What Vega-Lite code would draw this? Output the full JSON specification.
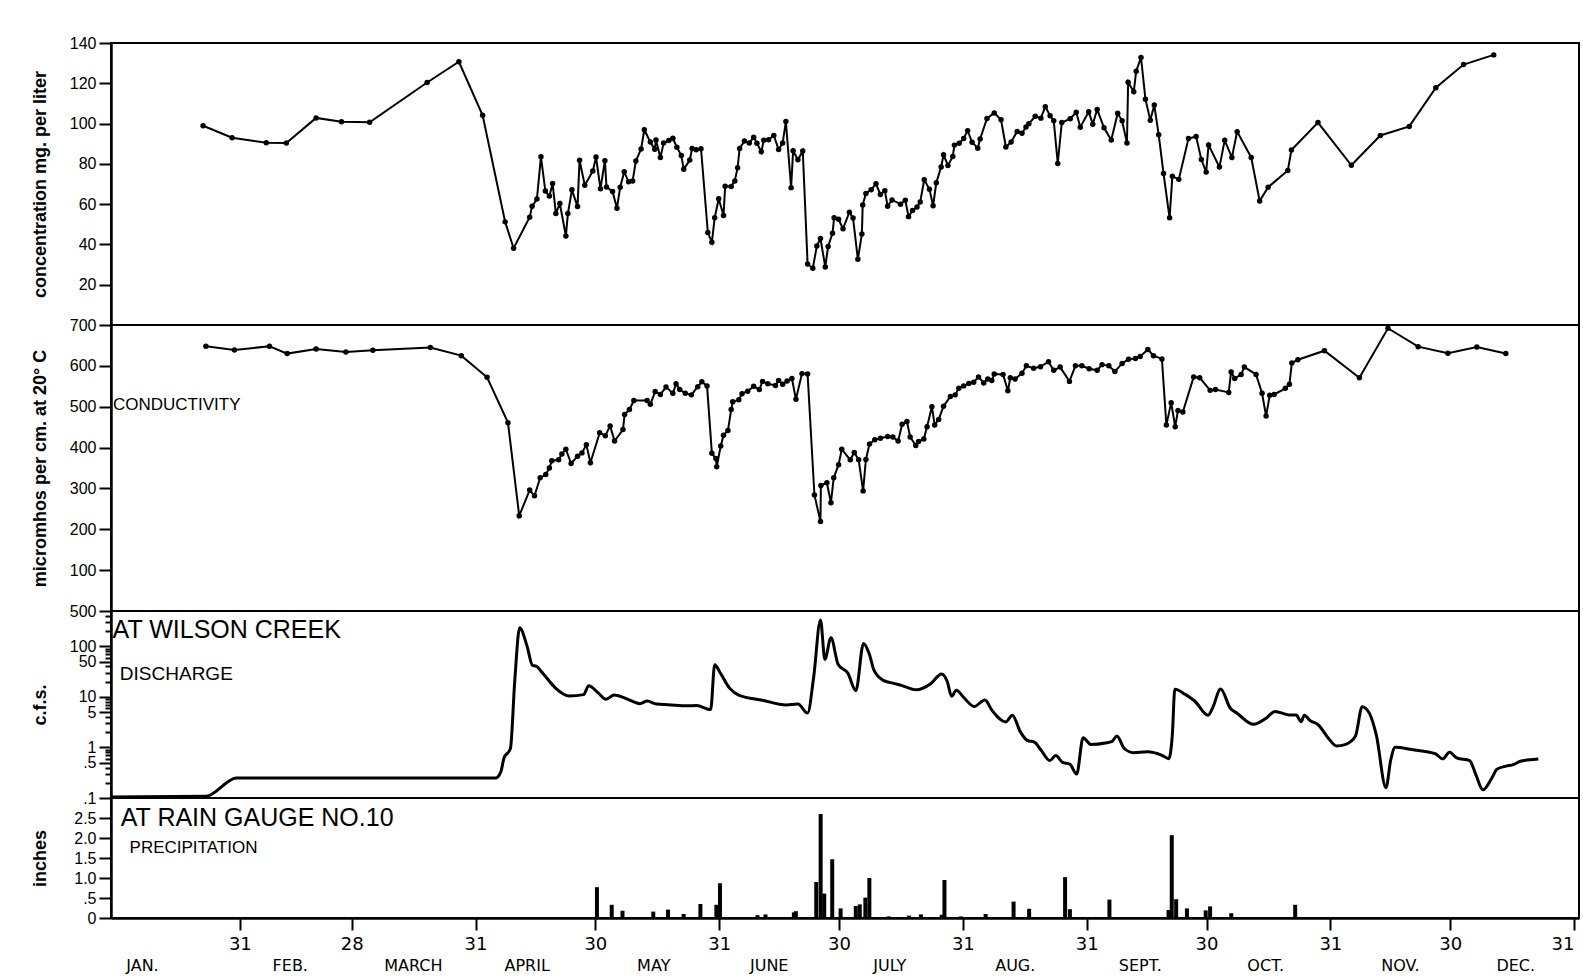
{
  "$schema": "https://vega.github.io/schema/vega-lite/v6.json",
  "background": "white",
  "padding": {"left": 29, "top": 34, "right": 0, "bottom": 0},
  "spacing": 0,
  "bounds": "flush",
  "config": {
    "view": {"stroke": "#000", "strokeWidth": 2},
    "font": "Liberation Sans",
    "axis": {"domainColor": "#000", "domainWidth": 2.5, "tickColor": "#000", "tickWidth": 2, "tickSize": 12, "labelColor": "#000", "titleColor": "#000", "grid": false, "labelOverlap": false},
    "axisY": {"labelFont": "Liberation Sans", "labelFontSize": 16, "labelPadding": 3, "titleFont": "Liberation Sans", "titleFontSize": 18, "titleFontWeight": "bold", "titlePadding": 4, "minExtent": 58, "maxExtent": 58},
    "axisX": {"labelFont": "DejaVu Sans", "labelFontSize": 17}
  },
  "datasets": {
    "conc": [
      {"day":22.9,"mg":98.9},{"day":30.1,"mg":93.0},{"day":38.6,"mg":90.5},{"day":43.6,"mg":90.3},{"day":51.0,"mg":102.8},{"day":57.3,"mg":100.9},{"day":64.3,"mg":100.6},{"day":78.6,"mg":120.4},{"day":86.5,"mg":130.7},{"day":92.4,"mg":104.1},{"day":98.0,"mg":51.2},{"day":100.1,"mg":38.1},{"day":104.1,"mg":53.5},{"day":104.7,"mg":58.9},{"day":105.9,"mg":62.6},{"day":106.9,"mg":83.5},{"day":108.0,"mg":66.5},{"day":109.0,"mg":64.0},{"day":109.8,"mg":70.2},{"day":110.6,"mg":55.4},{"day":111.6,"mg":60.3},{"day":113.1,"mg":44.2},{"day":113.6,"mg":55.3},{"day":114.6,"mg":67.1},{"day":116.0,"mg":58.8},{"day":116.5,"mg":81.8},{"day":117.8,"mg":69.4},{"day":119.8,"mg":76.4},{"day":120.6,"mg":83.4},{"day":121.7,"mg":67.6},{"day":122.8,"mg":81.6},{"day":123.2,"mg":68.5},{"day":124.7,"mg":66.3},{"day":125.8,"mg":58.0},{"day":126.6,"mg":68.4},{"day":127.6,"mg":76.1},{"day":128.7,"mg":71.1},{"day":129.7,"mg":71.5},{"day":130.5,"mg":81.4},{"day":131.8,"mg":87.4},{"day":132.6,"mg":96.9},{"day":134.1,"mg":90.9},{"day":135.2,"mg":87.2},{"day":135.5,"mg":91.9},{"day":136.6,"mg":83.1},{"day":137.4,"mg":90.3},{"day":138.7,"mg":91.6},{"day":139.7,"mg":92.7},{"day":140.7,"mg":88.2},{"day":141.8,"mg":84.1},{"day":142.4,"mg":77.3},{"day":143.9,"mg":81.9},{"day":144.5,"mg":87.6},{"day":145.5,"mg":87.0},{"day":146.7,"mg":87.5},{"day":148.4,"mg":45.9},{"day":149.4,"mg":41.1},{"day":150.1,"mg":53.2},{"day":151.1,"mg":62.7},{"day":152.3,"mg":54.4},{"day":152.7,"mg":68.9},{"day":154.2,"mg":68.8},{"day":155.1,"mg":71.5},{"day":155.8,"mg":78.1},{"day":156.3,"mg":87.6},{"day":157.5,"mg":91.4},{"day":158.7,"mg":90.3},{"day":159.8,"mg":93.2},{"day":160.6,"mg":90.2},{"day":161.7,"mg":86.0},{"day":162.3,"mg":91.7},{"day":163.5,"mg":92.0},{"day":164.8,"mg":94.1},{"day":166.0,"mg":87.1},{"day":167.0,"mg":90.4},{"day":167.8,"mg":101.0},{"day":169.1,"mg":68.2},{"day":169.6,"mg":86.5},{"day":170.8,"mg":82.0},{"day":172.0,"mg":86.4},{"day":173.2,"mg":30.3},{"day":174.5,"mg":28.2},{"day":175.5,"mg":39.2},{"day":176.4,"mg":42.9},{"day":177.6,"mg":28.8},{"day":178.3,"mg":39.0},{"day":179.4,"mg":45.5},{"day":179.8,"mg":53.3},{"day":180.9,"mg":52.5},{"day":182.0,"mg":47.8},{"day":183.6,"mg":56.0},{"day":184.5,"mg":53.1},{"day":185.7,"mg":32.6},{"day":186.7,"mg":45.2},{"day":186.9,"mg":59.6},{"day":187.7,"mg":65.3},{"day":189.0,"mg":67.2},{"day":190.2,"mg":70.1},{"day":191.3,"mg":64.8},{"day":192.4,"mg":66.7},{"day":193.1,"mg":59.0},{"day":194.2,"mg":62.1},{"day":196.3,"mg":60.0},{"day":197.5,"mg":61.9},{"day":198.3,"mg":53.8},{"day":199.3,"mg":56.9},{"day":200.4,"mg":58.6},{"day":201.2,"mg":61.1},{"day":202.2,"mg":72.1},{"day":203.5,"mg":67.4},{"day":204.4,"mg":59.2},{"day":205.2,"mg":70.6},{"day":206.4,"mg":78.4},{"day":207.0,"mg":84.5},{"day":208.1,"mg":79.2},{"day":209.3,"mg":83.7},{"day":209.7,"mg":89.3},{"day":210.9,"mg":90.2},{"day":212.0,"mg":92.6},{"day":213.0,"mg":96.5},{"day":214.1,"mg":90.7},{"day":215.5,"mg":87.8},{"day":216.1,"mg":92.4},{"day":217.8,"mg":102.5},{"day":219.6,"mg":105.3},{"day":221.3,"mg":101.9},{"day":222.5,"mg":88.4},{"day":223.8,"mg":90.8},{"day":225.3,"mg":96.1},{"day":226.5,"mg":95.2},{"day":227.5,"mg":98.3},{"day":228.2,"mg":99.9},{"day":229.8,"mg":103.6},{"day":231.2,"mg":102.7},{"day":232.3,"mg":108.4},{"day":233.5,"mg":103.9},{"day":234.4,"mg":101.4},{"day":235.4,"mg":80.2},{"day":236.4,"mg":100.5},{"day":238.5,"mg":102.4},{"day":240.0,"mg":105.6},{"day":241.0,"mg":98.2},{"day":243.1,"mg":105.9},{"day":244.1,"mg":99.7},{"day":245.2,"mg":107.0},{"day":246.9,"mg":97.9},{"day":248.7,"mg":91.8},{"day":250.3,"mg":105.1},{"day":251.4,"mg":101.4},{"day":252.6,"mg":90.3},{"day":252.9,"mg":120.5},{"day":254.3,"mg":115.8},{"day":254.9,"mg":126.0},{"day":256.1,"mg":132.8},{"day":257.2,"mg":112.1},{"day":258.4,"mg":101.7},{"day":259.4,"mg":109.2},{"day":260.5,"mg":94.4},{"day":261.7,"mg":75.2},{"day":263.2,"mg":53.2},{"day":263.9,"mg":73.8},{"day":265.5,"mg":72.3},{"day":267.9,"mg":92.6},{"day":269.8,"mg":93.6},{"day":271.1,"mg":82.2},{"day":272.3,"mg":75.9},{"day":272.9,"mg":89.4},{"day":275.6,"mg":78.4},{"day":276.9,"mg":91.7},{"day":278.7,"mg":83.2},{"day":280.0,"mg":96.0},{"day":283.5,"mg":83.2},{"day":285.6,"mg":61.6},{"day":287.7,"mg":68.4},{"day":292.6,"mg":76.7},{"day":293.5,"mg":86.9},{"day":300.1,"mg":100.5},{"day":308.4,"mg":79.3},{"day":315.6,"mg":94.1},{"day":322.8,"mg":98.6},{"day":329.4,"mg":117.8},{"day":336.3,"mg":129.3},{"day":343.8,"mg":134.1}
    ],
    "cond": [
      {"day":23.6,"umhos":648},{"day":30.7,"umhos":639},{"day":39.4,"umhos":648},{"day":43.8,"umhos":630},{"day":51.0,"umhos":641},{"day":58.4,"umhos":634},{"day":65.1,"umhos":638},{"day":79.4,"umhos":645},{"day":87.1,"umhos":625},{"day":93.5,"umhos":572},{"day":98.7,"umhos":461},{"day":101.5,"umhos":233},{"day":104.1,"umhos":296},{"day":105.3,"umhos":282},{"day":106.7,"umhos":326},{"day":108.1,"umhos":334},{"day":109.0,"umhos":350},{"day":109.6,"umhos":368},{"day":111.3,"umhos":370},{"day":112.1,"umhos":384},{"day":113.1,"umhos":396},{"day":114.4,"umhos":361},{"day":116.0,"umhos":379},{"day":117.1,"umhos":387},{"day":118.2,"umhos":407},{"day":119.2,"umhos":363},{"day":121.5,"umhos":436},{"day":122.9,"umhos":429},{"day":124.1,"umhos":453},{"day":125.2,"umhos":416},{"day":127.3,"umhos":444},{"day":127.7,"umhos":481},{"day":128.9,"umhos":493},{"day":130.0,"umhos":515},{"day":133.3,"umhos":515},{"day":134.1,"umhos":506},{"day":135.3,"umhos":537},{"day":136.6,"umhos":530},{"day":138.0,"umhos":548},{"day":139.7,"umhos":533},{"day":140.5,"umhos":556},{"day":141.4,"umhos":542},{"day":142.8,"umhos":533},{"day":144.3,"umhos":529},{"day":145.9,"umhos":549},{"day":146.9,"umhos":561},{"day":148.2,"umhos":551},{"day":149.4,"umhos":386},{"day":150.4,"umhos":373},{"day":150.6,"umhos":353},{"day":151.6,"umhos":404},{"day":152.3,"umhos":430},{"day":153.4,"umhos":442},{"day":154.2,"umhos":493},{"day":154.6,"umhos":512},{"day":156.1,"umhos":517},{"day":156.9,"umhos":532},{"day":158.3,"umhos":538},{"day":159.8,"umhos":550},{"day":161.2,"umhos":542},{"day":162.0,"umhos":562},{"day":163.3,"umhos":556},{"day":165.2,"umhos":552},{"day":166.0,"umhos":564},{"day":167.0,"umhos":555},{"day":168.1,"umhos":563},{"day":169.3,"umhos":569},{"day":170.3,"umhos":518},{"day":171.8,"umhos":581},{"day":173.2,"umhos":580},{"day":174.9,"umhos":284},{"day":176.4,"umhos":219},{"day":176.5,"umhos":307},{"day":178.0,"umhos":314},{"day":179.0,"umhos":265},{"day":179.7,"umhos":326},{"day":180.9,"umhos":358},{"day":181.7,"umhos":396},{"day":183.8,"umhos":370},{"day":184.8,"umhos":388},{"day":185.9,"umhos":370},{"day":187.0,"umhos":294},{"day":187.7,"umhos":371},{"day":188.6,"umhos":409},{"day":189.9,"umhos":419},{"day":191.3,"umhos":423},{"day":193.1,"umhos":427},{"day":194.4,"umhos":426},{"day":195.7,"umhos":416},{"day":196.7,"umhos":457},{"day":197.9,"umhos":464},{"day":198.7,"umhos":426},{"day":200.1,"umhos":405},{"day":200.8,"umhos":415},{"day":202.1,"umhos":421},{"day":202.9,"umhos":451},{"day":204.1,"umhos":500},{"day":204.8,"umhos":455},{"day":205.8,"umhos":469},{"day":207.0,"umhos":501},{"day":208.7,"umhos":525},{"day":209.9,"umhos":529},{"day":210.8,"umhos":545},{"day":212.0,"umhos":551},{"day":213.3,"umhos":557},{"day":214.5,"umhos":560},{"day":215.7,"umhos":573},{"day":217.0,"umhos":558},{"day":218.0,"umhos":568},{"day":219.0,"umhos":564},{"day":219.6,"umhos":580},{"day":221.8,"umhos":579},{"day":223.0,"umhos":539},{"day":223.6,"umhos":571},{"day":224.8,"umhos":568},{"day":226.5,"umhos":582},{"day":227.6,"umhos":600},{"day":229.4,"umhos":594},{"day":231.1,"umhos":598},{"day":233.1,"umhos":610},{"day":234.4,"umhos":589},{"day":236.0,"umhos":597},{"day":238.3,"umhos":562},{"day":239.8,"umhos":600},{"day":241.4,"umhos":600},{"day":243.2,"umhos":593},{"day":245.2,"umhos":589},{"day":246.4,"umhos":603},{"day":248.1,"umhos":600},{"day":249.6,"umhos":586},{"day":251.4,"umhos":606},{"day":253.0,"umhos":616},{"day":254.7,"umhos":618},{"day":255.9,"umhos":623},{"day":257.8,"umhos":640},{"day":259.2,"umhos":625},{"day":261.3,"umhos":617},{"day":262.4,"umhos":455},{"day":263.6,"umhos":510},{"day":264.6,"umhos":451},{"day":265.3,"umhos":491},{"day":266.5,"umhos":487},{"day":269.2,"umhos":573},{"day":270.7,"umhos":571},{"day":273.3,"umhos":540},{"day":274.6,"umhos":542},{"day":277.9,"umhos":535},{"day":278.5,"umhos":585},{"day":279.4,"umhos":569},{"day":281.0,"umhos":579},{"day":281.8,"umhos":597},{"day":284.7,"umhos":579},{"day":286.2,"umhos":533},{"day":287.2,"umhos":477},{"day":288.1,"umhos":528},{"day":289.2,"umhos":530},{"day":292.0,"umhos":545},{"day":293.0,"umhos":555},{"day":293.6,"umhos":607},{"day":295.1,"umhos":615},{"day":301.7,"umhos":637},{"day":310.4,"umhos":571},{"day":317.5,"umhos":692},{"day":325.0,"umhos":647},{"day":332.4,"umhos":631},{"day":339.6,"umhos":646},{"day":346.8,"umhos":630}
    ],
    "dis": [
      {"day":0,"cfs":0.105},{"day":23.6,"cfs":0.108},{"day":31.2,"cfs":0.248},{"day":44.7,"cfs":0.25},{"day":95.7,"cfs":0.25},{"day":96.9,"cfs":0.324},{"day":97.7,"cfs":0.614},{"day":99.3,"cfs":0.94},{"day":100.4,"cfs":21.4},{"day":101.6,"cfs":232},{"day":103.4,"cfs":104},{"day":104.8,"cfs":41.9},{"day":105.7,"cfs":40.4},{"day":107.5,"cfs":28.4},{"day":110.4,"cfs":15.3},{"day":113.9,"cfs":10.4},{"day":117.5,"cfs":11.1},{"day":118.8,"cfs":16.7},{"day":121.0,"cfs":12.3},{"day":123.1,"cfs":8.98},{"day":125.1,"cfs":10.9},{"day":128.0,"cfs":9.31},{"day":131.5,"cfs":7.35},{"day":133.3,"cfs":8.26},{"day":135.6,"cfs":7.26},{"day":138.6,"cfs":7.03},{"day":143.3,"cfs":6.65},{"day":145.6,"cfs":6.76},{"day":149.1,"cfs":5.61},{"day":150.1,"cfs":43.4},{"day":151.5,"cfs":29.7},{"day":153.8,"cfs":14.9},{"day":156.2,"cfs":10.7},{"day":162.0,"cfs":8.59},{"day":167.9,"cfs":6.95},{"day":170.8,"cfs":7.23},{"day":173.2,"cfs":4.78},{"day":174.7,"cfs":24.2},{"day":176.4,"cfs":332},{"day":177.5,"cfs":55.2},{"day":179.0,"cfs":148},{"day":180.8,"cfs":43.6},{"day":183.2,"cfs":29.5},{"day":185.2,"cfs":13.3},{"day":187.1,"cfs":114},{"day":188.5,"cfs":71.9},{"day":189.7,"cfs":33.7},{"day":192.0,"cfs":21.2},{"day":194.4,"cfs":18.7},{"day":196.7,"cfs":16.7},{"day":200.2,"cfs":13.8},{"day":203.8,"cfs":18.2},{"day":206.5,"cfs":28.5},{"day":207.9,"cfs":20.4},{"day":209.0,"cfs":10.3},{"day":210.2,"cfs":13.5},{"day":212.0,"cfs":9.77},{"day":214.6,"cfs":6.45},{"day":217.3,"cfs":8.69},{"day":219.0,"cfs":5.5},{"day":222.5,"cfs":3.2},{"day":224.1,"cfs":4.34},{"day":226.1,"cfs":2.03},{"day":227.8,"cfs":1.38},{"day":229.6,"cfs":1.27},{"day":231.3,"cfs":0.871},{"day":233.4,"cfs":0.551},{"day":234.9,"cfs":0.689},{"day":236.6,"cfs":0.508},{"day":238.4,"cfs":0.468},{"day":240.1,"cfs":0.297},{"day":241.7,"cfs":1.55},{"day":243.7,"cfs":1.14},{"day":247.2,"cfs":1.22},{"day":248.9,"cfs":1.32},{"day":250.1,"cfs":1.69},{"day":251.9,"cfs":0.964},{"day":254.2,"cfs":0.789},{"day":257.7,"cfs":0.822},{"day":261.3,"cfs":0.698},{"day":263.0,"cfs":0.598},{"day":263.9,"cfs":1.85},{"day":264.5,"cfs":14.1},{"day":267.1,"cfs":11.2},{"day":269.5,"cfs":8.2},{"day":272.8,"cfs":4.34},{"day":273.9,"cfs":6.04},{"day":275.9,"cfs":14.3},{"day":278.3,"cfs":5.97},{"day":280.0,"cfs":4.74},{"day":284.1,"cfs":2.86},{"day":287.1,"cfs":3.72},{"day":289.4,"cfs":5.15},{"day":292.9,"cfs":4.39},{"day":294.7,"cfs":4.37},{"day":295.9,"cfs":3.23},{"day":296.7,"cfs":4.35},{"day":298.2,"cfs":3.37},{"day":300.0,"cfs":2.88},{"day":302.9,"cfs":1.45},{"day":304.7,"cfs":1.07},{"day":307.0,"cfs":1.15},{"day":309.4,"cfs":1.66},{"day":311.1,"cfs":6.41},{"day":312.9,"cfs":4.72},{"day":314.6,"cfs":1.77},{"day":317.0,"cfs":0.16},{"day":318.2,"cfs":0.571},{"day":319.3,"cfs":1.01},{"day":323.4,"cfs":0.91},{"day":329.3,"cfs":0.75},{"day":331.1,"cfs":0.596},{"day":332.8,"cfs":0.8},{"day":334.6,"cfs":0.621},{"day":337.8,"cfs":0.547},{"day":339.3,"cfs":0.298},{"day":341.1,"cfs":0.145},{"day":343.4,"cfs":0.255},{"day":344.6,"cfs":0.37},{"day":346.9,"cfs":0.428},{"day":348.7,"cfs":0.458},{"day":350.4,"cfs":0.532},{"day":352.7,"cfs":0.569},{"day":354.9,"cfs":0.593}
    ],
    "precip": [
      {"day":120.4,"inches":0.77},{"day":124.1,"inches":0.33},{"day":126.8,"inches":0.18},{"day":134.5,"inches":0.16},{"day":138.2,"inches":0.21},{"day":142.1,"inches":0.1},{"day":146.3,"inches":0.35},{"day":150.3,"inches":0.33},{"day":151.2,"inches":0.87},{"day":160.6,"inches":0.07},{"day":162.6,"inches":0.09},{"day":169.7,"inches":0.14},{"day":170.2,"inches":0.17},{"day":175.3,"inches":0.9},{"day":176.4,"inches":2.6},{"day":177.3,"inches":0.61},{"day":179.3,"inches":1.47},{"day":181.4,"inches":0.24},{"day":185.2,"inches":0.3},{"day":186.2,"inches":0.34},{"day":187.6,"inches":0.51},{"day":188.6,"inches":1.0},{"day":193.4,"inches":0.04},{"day":198.5,"inches":0.06},{"day":201.5,"inches":0.09},{"day":206.7,"inches":0.08},{"day":207.4,"inches":0.95},{"day":211.5,"inches":0.04},{"day":217.7,"inches":0.1},{"day":224.7,"inches":0.41},{"day":228.6,"inches":0.23},{"day":237.6,"inches":1.02},{"day":238.8,"inches":0.22},{"day":248.7,"inches":0.46},{"day":263.5,"inches":0.2},{"day":264.3,"inches":2.07},{"day":265.4,"inches":0.47},{"day":268.1,"inches":0.24},{"day":272.8,"inches":0.19},{"day":273.9,"inches":0.29},{"day":279.2,"inches":0.12},{"day":295.2,"inches":0.33}
    ]
  },
  "vconcat": [
    {
      "width": 1468,
      "height": 282,
      "data": {"name": "conc"},
      "mark": {"type": "line", "color": "#000", "strokeWidth": 2, "point": {"filled": true, "size": 30, "color": "#000"}},
      "encoding": {
        "x": {"field": "day", "type": "quantitative", "scale": {"domain": [0, 365], "nice": false}, "axis": null},
        "y": {"field": "mg", "type": "quantitative", "scale": {"domain": [0, 140], "nice": false}, "axis": {"values": [20, 40, 60, 80, 100, 120, 140], "title": "concentration   mg. per liter"}}
      }
    },
    {
      "width": 1468,
      "height": 286,
      "resolve": {"axis": {"x": "independent", "y": "independent"}},
      "layer": [
        {
          "data": {"name": "cond"},
          "mark": {"type": "line", "color": "#000", "strokeWidth": 2, "point": {"filled": true, "size": 30, "color": "#000"}},
          "encoding": {
            "x": {"field": "day", "type": "quantitative", "scale": {"domain": [0, 365], "nice": false}, "axis": null},
            "y": {"field": "umhos", "type": "quantitative", "scale": {"domain": [0, 700], "nice": false}, "axis": {"values": [100, 200, 300, 400, 500, 600, 700], "title": "micromhos per cm. at 20° C"}}
          }
        },
        {
          "data": {"values": [{}]},
          "mark": {"type": "text", "text": "CONDUCTIVITY", "align": "left", "baseline": "middle", "font": "Liberation Sans", "fontSize": 17, "color": "#000"},
          "encoding": {
            "x": {"datum": 0.5, "type": "quantitative", "axis": null},
            "y": {"datum": 504, "type": "quantitative", "axis": null}
          }
        }
      ]
    },
    {
      "width": 1468,
      "height": 187,
      "resolve": {"axis": {"x": "independent", "y": "independent"}},
      "layer": [
        {
          "data": {"name": "dis"},
          "mark": {"type": "line", "color": "#000", "strokeWidth": 3, "interpolate": "monotone"},
          "encoding": {
            "x": {"field": "day", "type": "quantitative", "scale": {"domain": [0, 365], "nice": false}, "axis": null},
            "y": {"field": "cfs", "type": "quantitative", "scale": {"type": "log", "domain": [0.1, 500], "nice": false}, "axis": {
              "values": [0.1, 0.2, 0.3, 0.4, 0.5, 0.6, 0.7, 0.8, 0.9, 1, 2, 3, 4, 5, 6, 7, 8, 9, 10, 20, 30, 40, 50, 60, 70, 80, 90, 100, 200, 300, 400, 500],
              "labelExpr": "indexof([0.1, 0.5, 1, 5, 10, 50, 100, 500], datum.value) >= 0 ? (datum.value < 1 ? replace(format(datum.value, '.1f'), '0.', '.') : format(datum.value, 'd')) : ''",
              "tickSize": {"condition": {"test": "indexof([0.1, 0.5, 1, 5, 10, 50, 100, 500], datum.value) >= 0", "value": 12}, "value": 6},
              "title": "c.f.s."
            }}
          }
        },
        {
          "data": {"values": [{}]},
          "mark": {"type": "text", "text": "AT WILSON CREEK", "align": "left", "baseline": "middle", "font": "Liberation Sans", "fontSize": 25, "color": "#000"},
          "encoding": {
            "x": {"datum": 0.4, "type": "quantitative", "axis": null},
            "y": {"datum": 212, "type": "quantitative", "axis": null}
          }
        },
        {
          "data": {"values": [{}]},
          "mark": {"type": "text", "text": "DISCHARGE", "align": "left", "baseline": "middle", "font": "Liberation Sans", "fontSize": 19, "color": "#000"},
          "encoding": {
            "x": {"datum": 2.2, "type": "quantitative", "axis": null},
            "y": {"datum": 28.7, "type": "quantitative", "axis": null}
          }
        }
      ]
    },
    {
      "width": 1468,
      "height": 120,
      "resolve": {"axis": {"x": "independent", "y": "independent"}},
      "layer": [
        {
          "data": {"name": "precip"},
          "mark": {"type": "bar", "color": "#000", "width": 4},
          "encoding": {
            "x": {"field": "day", "type": "quantitative", "scale": {"domain": [0, 365], "nice": false}, "axis": {
              "values": [6.5, 31, 43.5, 59, 74.3, 90, 102.8, 120, 134.5, 151, 163.4, 181, 193.6, 212, 225, 243, 256.3, 273, 287.7, 304, 321.4, 334, 350.3, 365],
              "labelExpr": "['JAN.','31','FEB.','28','MARCH','31','APRIL','30','MAY','31','JUNE','30','JULY','31','AUG.','31','SEPT.','30','OCT.','31','NOV.','30','DEC.','31'][indexof([6.5, 31, 43.5, 59, 74.3, 90, 102.8, 120, 134.5, 151, 163.4, 181, 193.6, 212, 225, 243, 256.3, 273, 287.7, 304, 321.4, 334, 350.3, 365], datum.value)]",
              "tickOpacity": {"condition": {"test": "indexof([31, 59, 90, 120, 151, 181, 212, 243, 273, 304, 334, 365], datum.value) >= 0", "value": 1}, "value": 0},
              "labelPadding": {"condition": {"test": "indexof([31, 59, 90, 120, 151, 181, 212, 243, 273, 304, 334, 365], datum.value) >= 0", "value": 5}, "value": 27},
              "labelFontSize": {"condition": {"test": "indexof([31, 59, 90, 120, 151, 181, 212, 243, 273, 304, 334, 365], datum.value) >= 0", "value": 18}, "value": 16},
              "labelAlign": {"condition": {"test": "datum.value == 365", "value": "right"}, "value": "center"},
              "labelFlush": false,
              "title": null
            }},
            "y": {"field": "inches", "type": "quantitative", "scale": {"domain": [0, 3], "nice": false}, "axis": {
              "values": [0, 0.5, 1, 1.5, 2, 2.5],
              "labelExpr": "datum.value == 0 ? '0' : datum.value == 0.5 ? '.5' : format(datum.value, '.1f')",
              "title": "inches"
            }}
          }
        },
        {
          "data": {"values": [{}]},
          "mark": {"type": "text", "text": "AT RAIN GAUGE NO.10", "align": "left", "baseline": "middle", "font": "Liberation Sans", "fontSize": 25, "color": "#000"},
          "encoding": {
            "x": {"datum": 1.2, "type": "quantitative", "axis": null},
            "y": {"datum": 2.49, "type": "quantitative", "axis": null}
          }
        },
        {
          "data": {"values": [{}]},
          "mark": {"type": "text", "text": "PRECIPITATION", "align": "left", "baseline": "middle", "font": "Liberation Sans", "fontSize": 17, "color": "#000"},
          "encoding": {
            "x": {"datum": 3.4, "type": "quantitative", "axis": null},
            "y": {"datum": 1.76, "type": "quantitative", "axis": null}
          }
        }
      ]
    }
  ]
}
